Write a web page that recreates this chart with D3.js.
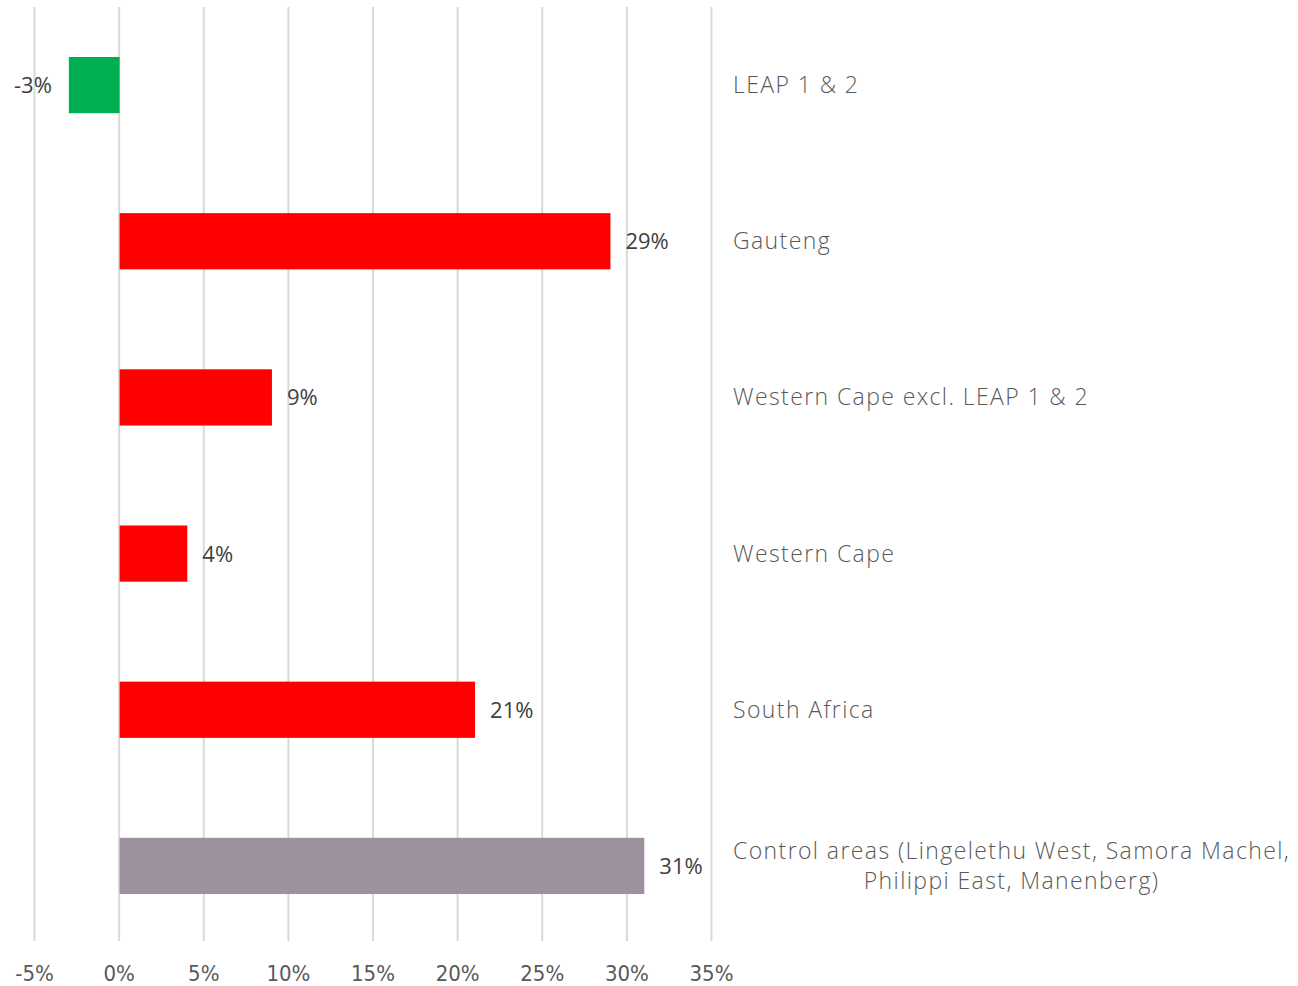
<!DOCTYPE html>
<html>
<head>
<meta charset="utf-8">
<script src="https://cdn.jsdelivr.net/npm/d3@7"></script>
<style>
  html, body { margin: 0; padding: 0; background: #fff; }
  svg text { font-family: "Century Gothic", "Open Sans", "DejaVu Sans", sans-serif; font-weight: 300; fill: #595959; }
</style>
</head>
<body>
<svg id="chart" width="1298" height="986"></svg>
<script>
// Change by area, top to bottom
const categories = [
  "LEAP 1 & 2",
  "Gauteng",
  "Western Cape excl. LEAP 1 & 2",
  "Western Cape",
  "South Africa",
  "Control areas (Lingelethu West, Samora Machel,|Philippi East, Manenberg)"
];
const values = [-3, 29, 9, 4, 21, 31];
const barColors = ["#00b050", "#ff0000", "#ff0000", "#ff0000", "#ff0000", "#9e919f"];
const tickValues = [-5, 0, 5, 10, 15, 20, 25, 30, 35];

const svg = d3.select("#chart");

const x = d3.scaleLinear().domain([-5, 35]).range([34, 711]);
const y = d3.scaleBand().domain(categories).range([7, 944]).paddingInner(0.64).paddingOuter(0.32);

// vertical gridlines
svg.append("g").selectAll("line").data(tickValues).join("line")
  .attr("x1", d => x(d) + 0.5).attr("x2", d => x(d) + 0.5)
  .attr("y1", 7).attr("y2", 941)
  .attr("stroke", "#d9d9d9").attr("stroke-width", 2);

// x axis tick labels
const xAxis = d3.axisBottom(x).tickValues(tickValues).tickSize(0).tickPadding(0)
  .tickFormat(d => d + "%");
const gx = svg.append("g").attr("transform", "translate(0,981)").call(xAxis);
gx.select(".domain").remove();
gx.selectAll("text")
  .attr("dy", null).attr("y", 0)
  .style("font-family", "'Liberation Sans Narrow', 'DejaVu Sans Condensed', sans-serif")
  .style("font-weight", "normal")
  .style("font-size", "22px").style("fill", "#595959");

// bars
svg.append("g").selectAll("rect").data(values).join("rect")
  .attr("x", d => x(Math.min(0, d)) + 1)
  .attr("width", d => Math.abs(x(d) - x(0)))
  .attr("y", (d, i) => y(categories[i]))
  .attr("height", y.bandwidth())
  .attr("fill", (d, i) => barColors[i]);

// value labels
svg.append("g").selectAll("text").data(values).join("text")
  .attr("x", d => d < 0 ? x(d) - 16 : x(d) + 16)
  .attr("y", (d, i) => y(categories[i]) + y.bandwidth() / 2 + 8)
  .attr("text-anchor", d => d < 0 ? "end" : "start")
  .style("font-size", "22px")
  .style("font-weight", "normal")
  .style("fill", "#404040")
  .text(d => d + "%");

// category labels on the right
const labelX = 733;
const lab = svg.append("g").selectAll("text").data(categories).join("text")
  .attr("y", d => y(d) + y.bandwidth() / 2)
  .style("font-size", "23px")
  .style("letter-spacing", "1.4px");
lab.each(function(d) {
  const t = d3.select(this);
  const lines = d.split("|");
  if (lines.length === 1) {
    t.attr("x", labelX).attr("dy", 8).text(d);
  } else {
    const tspans = lines.map((ln, k) => t.append("tspan").text(ln)
      .attr("dy", k === 0 ? -7 : 30));
    const w = tspans[0].node().getComputedTextLength();
    const cx = labelX + w / 2;
    t.attr("text-anchor", "middle");
    tspans.forEach(s => s.attr("x", cx));
  }
});
</script>
</body>
</html>
